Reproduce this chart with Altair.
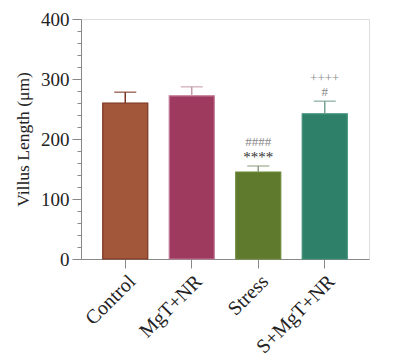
import altair as alt
import pandas as pd

groups = ["Control", "MgT+NR", "Stress", "S+MgT+NR"]
means = [260, 272, 145, 242]
errs = [18, 15, 10, 21]
fills = ["#A3573A", "#9E3A5E", "#5F7A2C", "#2E8068"]
strokes = ["#7A3520", "#C07A95", "#6E8A3A", "#3E9078"]
errcolors = ["#7A3520", "#C79AAB", "#8E9E80", "#74A090"]

major_ticks = [0, 100, 200, 300, 400]
minor_ticks = [v for v in range(0, 401, 20) if v % 100 != 0]

ann_groups = ["Stress", "Stress", "S+MgT+NR", "S+MgT+NR"]
ann_text = ["####", "****", "++++", "#"]
ann_y = [195, 170, 302, 279]
ann_color = ["#8a8a8a", "#333333", "#8a8a8a", "#8a8a8a"]
ann_size = [13, 15, 13, 13]

df = pd.DataFrame({"group": groups, "mean": means,
                   "top": [m + e for m, e in zip(means, errs)],
                   "fill": fills, "stroke": strokes, "ecol": errcolors})
adf = pd.DataFrame({"group": ann_groups, "text": ann_text, "y": ann_y,
                    "color": ann_color, "size": ann_size})

FONT = "Liberation Serif"

xenc = alt.X("group:N", sort=groups, title=None,
             scale=alt.Scale(paddingInner=0.323, paddingOuter=0.327),
             axis=alt.Axis(labelAngle=-45, labelFont=FONT, labelFontSize=20,
                           labelColor="#222222", tickSize=9, tickColor="#888888",
                           domainColor="#888888", labelPadding=3))
yscale = alt.Scale(domain=[0, 400], nice=False)

bars = alt.Chart(df).mark_bar(strokeWidth=1.2).encode(
    x=xenc,
    y=alt.Y("mean:Q", scale=yscale, title="Villus Length (μm)",
            axis=alt.Axis(values=major_ticks, orient="left", tickSize=9,
                          tickColor="#888888", domainColor="#888888",
                          labelFont=FONT, labelFontSize=19, labelColor="#222222",
                          labelPadding=3, grid=False, labelOverlap=False,
                          titleFont=FONT, titleFontSize=17.5, titleFontWeight="normal",
                          titleColor="#222222", titlePadding=8)),
    fill=alt.Fill("fill:N", scale=None),
    stroke=alt.Stroke("stroke:N", scale=None),
)

minor = alt.Chart(df).mark_bar(opacity=0).encode(
    x=alt.X("group:N", sort=groups),
    y=alt.Y("mean:Q", scale=yscale, title=None,
            axis=alt.Axis(values=minor_ticks, orient="left", tickSize=4,
                          tickColor="#888888", labels=False, domain=False,
                          grid=False)),
)

rules = alt.Chart(df).mark_rule(strokeWidth=1.5).encode(
    x=alt.X("group:N", sort=groups),
    y=alt.Y("mean:Q", axis=None), y2="top:Q",
    color=alt.Color("ecol:N", scale=None),
)
caps = alt.Chart(df).mark_tick(size=22, thickness=1.5).encode(
    x=alt.X("group:N", sort=groups),
    y=alt.Y("top:Q", axis=None),
    color=alt.Color("ecol:N", scale=None),
)
texts = alt.Chart(adf).mark_text(font=FONT, baseline="middle").encode(
    x=alt.X("group:N", sort=groups),
    y=alt.Y("y:Q", axis=None),
    text="text:N",
    color=alt.Color("color:N", scale=None),
    size=alt.Size("size:Q", scale=None),
)

chart = alt.layer(bars, minor, rules, caps, texts).resolve_axis(
    y="independent"
).resolve_scale(y="shared").properties(
    width=288, height=240,
    autosize=alt.AutoSizeParams(type="none"),
    padding={"left": 73, "top": 11, "right": 20, "bottom": 100},
).configure_view(stroke=None).configure(background="white")

chart.save("out.html", embed_options={"renderer": "svg", "actions": False})
